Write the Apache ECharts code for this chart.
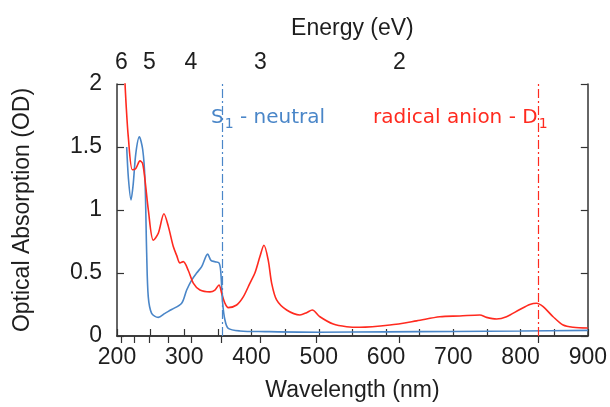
<!DOCTYPE html>
<html><head><meta charset="utf-8">
<script src="https://cdn.jsdelivr.net/npm/echarts@6/dist/echarts.min.js"></script>
<style>html,body{margin:0;padding:0;background:#fff}#c{width:610px;height:407px}</style>
</head><body><div id="c"></div>
<script>
var redWl = [211.5, 213.4, 216.8, 222.8, 228, 234.2, 238, 241.6, 246.6, 254, 261.4, 269.8, 276.3, 283.7, 288.7, 293.6, 298.5, 306, 313.4, 323.3, 338.2, 345.6, 351.6, 355.6, 360.5, 365.4, 377.9, 387.7, 397.7, 405, 412.5, 418.5, 424.9, 429.9, 437.3, 452.2, 472, 481.9, 490.3, 501.7, 521.5, 541.4, 561, 605.7, 645.4, 680, 709.7, 739.5, 749.4, 764.3, 779.1, 798.9, 813.8, 823.7, 833.6, 848.4, 863.3, 878.1, 900];
var redOD = [2.05, 1.85, 1.58, 1.32, 1.33, 1.39, 1.37, 1.24, 1.0, 0.76, 0.815, 0.97, 0.87, 0.71, 0.64, 0.58, 0.59, 0.52, 0.42, 0.365, 0.35, 0.365, 0.405, 0.34, 0.26, 0.225, 0.246, 0.31, 0.42, 0.50, 0.63, 0.72, 0.60, 0.42, 0.286, 0.206, 0.167, 0.185, 0.206, 0.153, 0.095, 0.074, 0.069, 0.087, 0.12, 0.153, 0.159, 0.167, 0.148, 0.135, 0.153, 0.21, 0.25, 0.26, 0.233, 0.153, 0.087, 0.069, 0.063];
var blueWl = [214.4, 217, 220.8, 224, 228, 233.2, 238.2, 241.6, 244.1, 246.5, 251.5, 261.4, 271.3, 281.2, 296.1, 303.6, 311, 318.4, 325.9, 334.8, 339.7, 345.6, 351.6, 354.1, 357.1, 360.5, 365.4, 382.8, 420, 500, 600, 700, 800, 900];
var blueOD = [1.50, 1.25, 1.08, 1.2, 1.45, 1.58, 1.48, 1.24, 0.66, 0.31, 0.18, 0.148, 0.18, 0.21, 0.26, 0.365, 0.444, 0.50, 0.55, 0.65, 0.60, 0.59, 0.58, 0.52, 0.26, 0.127, 0.06, 0.04, 0.035, 0.03, 0.033, 0.036, 0.04, 0.045];
var energyMajor = [6, 5, 4, 3, 2];
var energyAll = [6, 5.5, 5, 4.5, 4, 3.5, 3, 2.5, 2, 1.5];
var s1Line = 356;
var d1Line = 827;
var labelS1 = 'S';
var labelS1rest = ' - neutral';
var labelD1 = 'radical anion - D';

var HC = 1240;
function zip(a, b) { return a.map(function (v, i) { return [v, b[i]]; }); }
var FONT = 'Liberation Sans';
var AFONT = 'DejaVu Sans';
var FS = 23;
var TXT = '#1e1e1e';
var axisLineStyle = { color: '#333', width: 1.5 };
var tickStyle = { color: '#333', width: 1.2 };
var chart = echarts.init(document.getElementById('c'));
chart.setOption({
  animation: false,
  textStyle: { fontFamily: FONT },
  grid: { left: 117, right: 22, top: 84, bottom: 71 },
  xAxis: [{
    type: 'value', min: 200, max: 900, interval: 100, position: 'bottom',
    name: 'Wavelength (nm)', nameLocation: 'middle', nameGap: 43,
    nameTextStyle: { fontSize: FS, color: TXT, fontFamily: FONT },
    axisLine: { lineStyle: axisLineStyle },
    axisTick: { inside: true, length: 7, lineStyle: tickStyle },
    minorTick: { show: true, splitNumber: 2, length: 7, lineStyle: tickStyle },
    splitLine: { show: false },
    axisLabel: { fontSize: FS, color: TXT, margin: 10, fontFamily: FONT }
  }, {
    type: 'value', min: 200, max: 900, position: 'top',
    name: 'Energy (eV)', nameLocation: 'middle', nameGap: 44,
    nameTextStyle: { fontSize: FS, color: TXT, fontFamily: FONT },
    axisLine: { lineStyle: axisLineStyle },
    axisTick: { inside: true, length: 7, lineStyle: tickStyle,
      customValues: energyAll.map(function (e) { return HC / e; }) },
    splitLine: { show: false },
    axisLabel: { fontSize: FS, color: TXT, margin: 10, fontFamily: FONT,
      customValues: energyMajor.map(function (e) { return HC / e; }),
      formatter: function (v) { return String(Math.round(HC / v)); } }
  }],
  yAxis: [{
    type: 'value', min: 0, max: 2, interval: 0.5, position: 'left',
    name: 'Optical Absorption (OD)', nameLocation: 'middle', nameGap: 83,
    nameTextStyle: { fontSize: FS, color: TXT, fontFamily: FONT },
    axisLine: { show: true, lineStyle: axisLineStyle },
    axisTick: { show: true, inside: true, length: 7, lineStyle: tickStyle },
    splitLine: { show: false },
    axisLabel: { fontSize: FS, color: TXT, margin: 15, fontFamily: FONT }
  }, {
    type: 'value', min: 0, max: 2, interval: 0.5, position: 'right',
    axisLine: { show: true, lineStyle: axisLineStyle },
    axisTick: { show: true, inside: true, length: 7, lineStyle: tickStyle },
    splitLine: { show: false },
    axisLabel: { show: false }
  }],
  series: [{
    type: 'line', name: 'radical anion', xAxisIndex: 0, yAxisIndex: 0,
    data: zip(redWl, redOD), showSymbol: false, smooth: 0.3, clip: true,
    lineStyle: { color: '#ff2a1f', width: 1.6 }, z: 3,
    markLine: { silent: true, symbol: 'none', label: { show: false },
      lineStyle: { color: '#ff2a1f', width: 1.2, type: [9, 3, 2, 3] },
      data: [{ xAxis: d1Line }] }
  }, {
    type: 'line', name: 'neutral', xAxisIndex: 0, yAxisIndex: 0,
    data: zip(blueWl, blueOD), showSymbol: false, smooth: 0.3, clip: true,
    lineStyle: { color: '#4a86c8', width: 1.6 }, z: 2,
    markLine: { silent: true, symbol: 'none', label: { show: false },
      lineStyle: { color: '#4a86c8', width: 1.2, type: [9, 3, 2, 3] },
      data: [{ xAxis: s1Line }] }
  }],
  graphic: [{
    type: 'text', left: 211, top: 108, z: 10,
    style: {
      text: '{m|' + labelS1 + '}{s|1}{m|' + labelS1rest + '}',
      fill: '#4a86c8', fontFamily: AFONT,
      rich: { m: { fontSize: 20, fill: '#4a86c8', fontFamily: AFONT, height: 26, verticalAlign: 'top' },
              s: { fontSize: 14, fill: '#4a86c8', fontFamily: AFONT, padding: [12, 0, 0, 1], verticalAlign: 'top' } }
    }
  }, {
    type: 'text', left: 373, top: 108, z: 10,
    style: {
      text: '{m|' + labelD1 + '}{s|1}',
      fill: '#ff2a1f', fontFamily: AFONT,
      rich: { m: { fontSize: 20, fill: '#ff2a1f', fontFamily: AFONT, height: 26, verticalAlign: 'top' },
              s: { fontSize: 14, fill: '#ff2a1f', fontFamily: AFONT, padding: [12, 0, 0, 1], verticalAlign: 'top' } }
    }
  }]
});
</script></body></html>
